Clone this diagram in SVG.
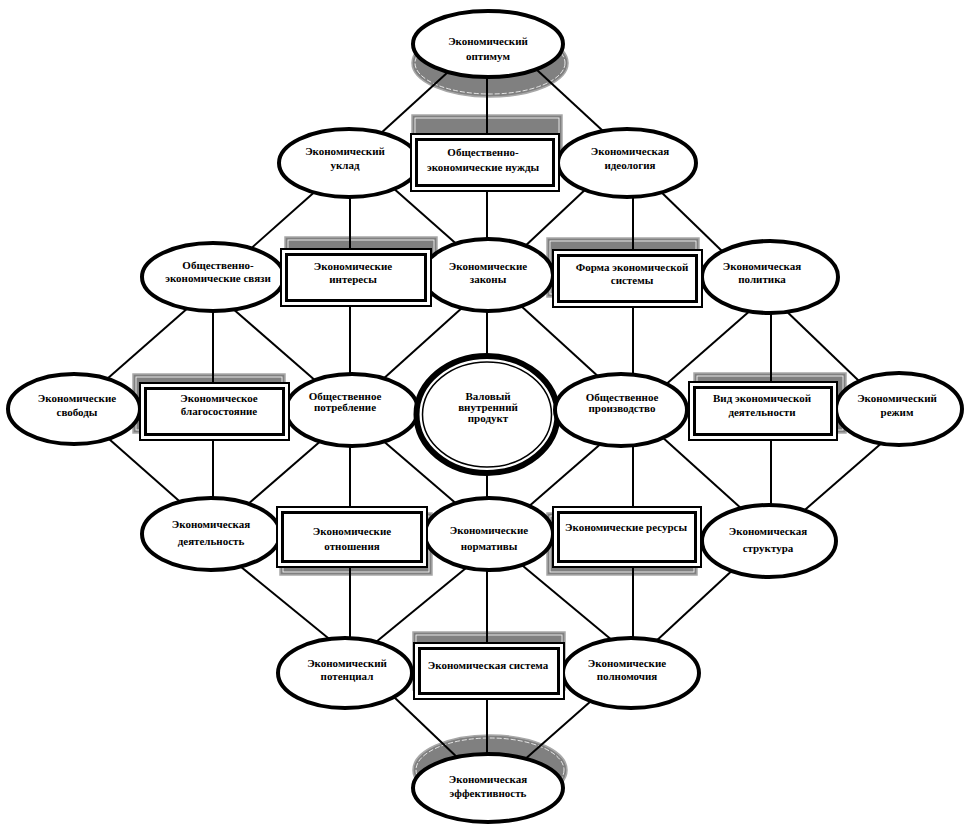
<svg xmlns="http://www.w3.org/2000/svg" width="969" height="825" viewBox="0 0 969 825">
<style>
.bg{fill:#fff}
.sh{fill:#808080;stroke:#a8a8a8;stroke-width:1.5}
.shl{fill:none;stroke:#fff;stroke-width:0.8}
.shd{fill:none;stroke:#fff;stroke-width:0.8;stroke-dasharray:5 2}
.ln{stroke:#000;stroke-width:2;fill:none}
.el{fill:#fff;stroke:#000;stroke-width:4}
.bo{fill:#fff;stroke:#000;stroke-width:2}
.bi{fill:none;stroke:#000;stroke-width:3}
text{font-family:"Liberation Serif","Times New Roman",serif;font-weight:bold;font-size:11px;text-anchor:middle;fill:#000}
</style>
<rect class="bg" x="0" y="0" width="969" height="825"/>
<g id="shadows">
<ellipse class="sh" cx="490" cy="63" rx="78" ry="34"/>
<ellipse class="shd" cx="490" cy="63" rx="75" ry="31"/>
<ellipse class="sh" cx="490" cy="770" rx="77" ry="35"/>
<ellipse class="shd" cx="490" cy="770" rx="74" ry="32"/>
<rect class="sh" x="412" y="115" width="150" height="59"/>
<rect class="shl" x="415" y="118" width="144" height="53"/>
<rect class="sh" x="285" y="237" width="152" height="59"/>
<rect class="shl" x="288" y="240" width="146" height="53"/>
<rect class="sh" x="547" y="238" width="152" height="59"/>
<rect class="shl" x="550" y="241" width="146" height="53"/>
<rect class="sh" x="133" y="374" width="152" height="59"/>
<rect class="shl" x="136" y="377" width="146" height="53"/>
<rect class="sh" x="694" y="373" width="152" height="60"/>
<rect class="shl" x="697" y="376" width="146" height="54"/>
<rect class="sh" x="280" y="513" width="152" height="62"/>
<rect class="shl" x="283" y="516" width="146" height="56"/>
<rect class="sh" x="547" y="513" width="150" height="62"/>
<rect class="shl" x="550" y="516" width="144" height="56"/>
<rect class="sh" x="413" y="632" width="152" height="58"/>
<rect class="shl" x="416" y="635" width="146" height="52"/>
</g>
<g id="connectors" class="ln">
<line x1="448" y1="72" x2="380" y2="134"/>
<line x1="487" y1="72" x2="487" y2="133"/>
<line x1="537" y1="70" x2="603" y2="131"/>
<line x1="319" y1="188" x2="247" y2="252"/>
<line x1="350" y1="193" x2="350" y2="248"/>
<line x1="392" y1="187" x2="461" y2="248"/>
<line x1="487" y1="188" x2="487" y2="240"/>
<line x1="588" y1="187" x2="522" y2="249"/>
<line x1="633" y1="193" x2="633" y2="249"/>
<line x1="657" y1="188" x2="724" y2="253"/>
<line x1="189" y1="307" x2="107" y2="379"/>
<line x1="213" y1="308" x2="213" y2="382"/>
<line x1="232" y1="308" x2="317" y2="382"/>
<line x1="350" y1="307" x2="350" y2="375"/>
<line x1="463" y1="307" x2="382" y2="380"/>
<line x1="487" y1="308" x2="487" y2="356"/>
<line x1="520" y1="305" x2="601" y2="379"/>
<line x1="633" y1="308" x2="633" y2="375"/>
<line x1="752" y1="309" x2="663" y2="387"/>
<line x1="771" y1="310" x2="771" y2="381"/>
<line x1="781" y1="306" x2="859" y2="381"/>
<line x1="109" y1="439" x2="186" y2="507"/>
<line x1="213" y1="441" x2="213" y2="499"/>
<line x1="323" y1="439" x2="247" y2="505"/>
<line x1="350" y1="443" x2="350" y2="506"/>
<line x1="381" y1="439" x2="459" y2="506"/>
<line x1="487" y1="472" x2="487" y2="500"/>
<line x1="604" y1="441" x2="527" y2="508"/>
<line x1="633" y1="443" x2="633" y2="506"/>
<line x1="661" y1="436" x2="743" y2="510"/>
<line x1="771" y1="441" x2="771" y2="507"/>
<line x1="884" y1="441" x2="799" y2="515"/>
<line x1="235" y1="562" x2="333" y2="642"/>
<line x1="350" y1="568" x2="350" y2="640"/>
<line x1="477" y1="559" x2="376" y2="642"/>
<line x1="487" y1="568" x2="487" y2="642"/>
<line x1="511" y1="556" x2="613" y2="641"/>
<line x1="633" y1="568" x2="633" y2="640"/>
<line x1="737" y1="566" x2="654" y2="643"/>
<line x1="394" y1="697" x2="461" y2="761"/>
<line x1="487" y1="700" x2="487" y2="756"/>
<line x1="591" y1="701" x2="523" y2="761"/>
</g>
<g id="n-optimum"><ellipse class="el" cx="488" cy="44" rx="75" ry="33"/><text x="488" y="45">Экономический</text><text x="488" y="60">оптимум</text></g>
<g id="n-uklad"><ellipse class="el" cx="349" cy="163" rx="70" ry="34"/><text x="345" y="155">Экономический</text><text x="345" y="169">уклад</text></g>
<g id="n-ideologiya"><ellipse class="el" cx="627" cy="163" rx="69" ry="34"/><text x="630" y="155">Экономическая</text><text x="630" y="169">идеология</text></g>
<g id="n-svyazi"><ellipse class="el" cx="213" cy="277" rx="71" ry="34"/><text x="218" y="269">Общественно-</text><text x="218" y="282">экономические связи</text></g>
<g id="n-zakony"><ellipse class="el" cx="488" cy="275" rx="65" ry="36"/><text x="488" y="270">Экономические</text><text x="488" y="283">законы</text></g>
<g id="n-politika"><ellipse class="el" cx="770" cy="277" rx="68" ry="36"/><text x="762" y="270">Экономическая</text><text x="762" y="283">политика</text></g>
<g id="n-svobody"><ellipse class="el" cx="74" cy="409" rx="66" ry="35"/><text x="77" y="402">Экономические</text><text x="77" y="416">свободы</text></g>
<g id="n-potreblenie"><ellipse class="el" cx="352" cy="410" rx="66" ry="36"/><text x="345" y="400">Общественное</text><text x="345" y="411">потребление</text></g>
<g id="n-vvp"><ellipse cx="487" cy="414.5" rx="70.5" ry="58.5" fill="#fff" stroke="#000" stroke-width="6"/><ellipse cx="487" cy="414.5" rx="64.5" ry="52.5" fill="none" stroke="#000" stroke-width="1.5"/><text x="488" y="400">Валовый</text><text x="488" y="411">внутренний</text><text x="488" y="422">продукт</text></g>
<g id="n-proizvodstvo"><ellipse class="el" cx="621" cy="410" rx="66" ry="36"/><text x="622" y="401">Общественное</text><text x="622" y="412">производство</text></g>
<g id="n-rezhim"><ellipse class="el" cx="899" cy="409" rx="63" ry="36"/><text x="897" y="402">Экономический</text><text x="897" y="416">режим</text></g>
<g id="n-deyatelnost"><ellipse class="el" cx="211" cy="534" rx="69" ry="36"/><text x="211" y="528">Экономическая</text><text x="211" y="545">деятельность</text></g>
<g id="n-normativy"><ellipse class="el" cx="489" cy="534" rx="64" ry="36"/><text x="489" y="534">Экономические</text><text x="489" y="550">нормативы</text></g>
<g id="n-struktura"><ellipse class="el" cx="769" cy="541" rx="67" ry="36"/><text x="768" y="535">Экономическая</text><text x="768" y="552">структура</text></g>
<g id="n-potencial"><ellipse class="el" cx="345" cy="673" rx="67" ry="35"/><text x="347" y="667">Экономический</text><text x="347" y="680">потенциал</text></g>
<g id="n-polnomochiya"><ellipse class="el" cx="631" cy="673" rx="68" ry="35"/><text x="627" y="667">Экономические</text><text x="627" y="680">полномочия</text></g>
<g id="n-effektivnost"><ellipse class="el" cx="488" cy="788" rx="75" ry="34"/><text x="488" y="783">Экономическая</text><text x="488" y="797">эффективность</text></g>
<g id="b-nuzhdy"><rect class="bo" x="411" y="134" width="148" height="57"/><rect class="bi" x="416.5" y="139.5" width="137" height="46"/><text x="483" y="156">Общественно-</text><text x="483" y="171">экономические нужды</text></g>
<g id="b-interesy"><rect class="bo" x="281" y="249" width="150" height="57"/><rect class="bi" x="286.5" y="254.5" width="139" height="46"/><text x="353" y="270">Экономические</text><text x="353" y="283">интересы</text></g>
<g id="b-forma"><rect class="bo" x="553" y="250" width="149" height="57"/><rect class="bi" x="558.5" y="255.5" width="138" height="46"/><text x="632" y="271">Форма экономической</text><text x="632" y="284">системы</text></g>
<g id="b-blagosostoyanie"><rect class="bo" x="140" y="383" width="149" height="57"/><rect class="bi" x="145.5" y="388.5" width="138" height="46"/><text x="219" y="402">Экономическое</text><text x="219" y="415">благосостояние</text></g>
<g id="b-vid"><rect class="bo" x="689" y="382" width="148" height="58"/><rect class="bi" x="694.5" y="387.5" width="137" height="47"/><text x="762" y="402">Вид экономической</text><text x="762" y="416">деятельности</text></g>
<g id="b-otnosheniya"><rect class="bo" x="277" y="507" width="150" height="60"/><rect class="bi" x="282.5" y="512.5" width="139" height="49"/><text x="352" y="535">Экономические</text><text x="352" y="550">отношения</text></g>
<g id="b-resursy"><rect class="bo" x="553" y="507" width="148" height="60"/><rect class="bi" x="558.5" y="512.5" width="137" height="49"/><text x="626" y="531">Экономические ресурсы</text></g>
<g id="b-sistema"><rect class="bo" x="414" y="643" width="150" height="56"/><rect class="bi" x="419.5" y="648.5" width="139" height="45"/><text x="488" y="669">Экономическая система</text></g>
</svg>
